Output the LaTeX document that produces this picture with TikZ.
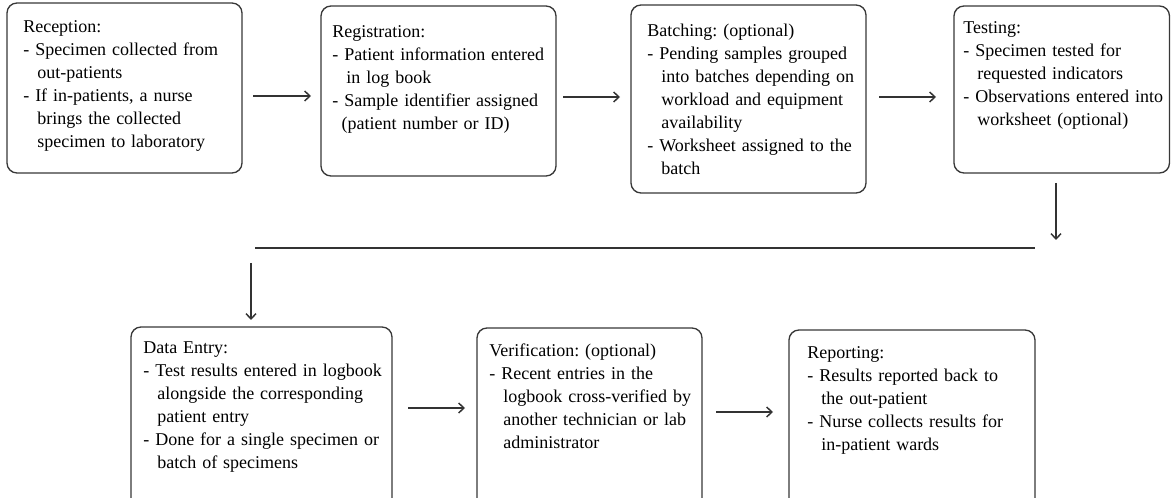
\documentclass[tikz,border=0pt]{standalone}
\usepackage{fontspec}
\setmainfont{Liberation Serif}
\usetikzlibrary{arrows.meta,fit}
\frenchspacing

% one titled step: first line carries a fixed-height strut so that
% the text node's top edge sits a known distance above the first baseline
\newcommand\steptitle[1]{\noindent\rule{0pt}{10pt}#1\par}
% a dash item whose wrapped lines hang under the first word
\newcommand\stepitem[2][10.5pt]{\hangindent=#1\hangafter=1\noindent - #2\par}

\begin{document}
\begin{tikzpicture}[x=0.75pt,y=-0.75pt,
  stepbox/.style={draw=black!78, line width=1pt, rounded corners=7.5pt, inner sep=0pt},
  steptext/.style={anchor=north west, inner sep=0pt, text width=185pt, align=left,
                   font=\fontsize{13.5pt}{17.25pt}\selectfont},
  flow/.style={draw=black!80, line width=1.1pt,
               -{Straight Barb[length=4pt,width=7.5pt,line width=1.1pt]}},
  rail/.style={draw=black!80, line width=1.1pt}]
\useasboundingbox (0,0) rectangle (1171,498);
\clip (0,0) rectangle (1171,498);

% ---- top row of steps
\node[stepbox, fit={(7,3) (242,173)}] (reception) {};
\node[stepbox, fit={(321,6) (556,176)}] (registration) {};
\node[stepbox, fit={(631,5) (866,193)}] (batching) {};
\node[stepbox, fit={(954,6) (1169.5,173)}] (testing) {};

% ---- bottom row of steps (running on below the page edge)
\node[stepbox, fit={(131,327) (392,530)}] (dataentry) {};
\node[stepbox, fit={(477,328) (702,530)}] (verification) {};
\node[stepbox, fit={(789,330) (1035,530)}] (reporting) {};

% ---- step descriptions
\node[steptext] (reception-t) at (23,18.7) {\steptitle{Reception:}
  \stepitem{Specimen collected from\newline out-patients}
  \stepitem{If in-patients, a nurse\newline brings the collected\newline specimen to laboratory}};
\node[steptext] (registration-t) at (332,23.7) {\steptitle{Registration:}
  \stepitem{Patient information entered\newline in log book}
  \stepitem[7pt]{Sample identifier assigned\newline (patient number or ID)}};
\node[steptext] (batching-t) at (647,22.7) {\steptitle{Batching: (optional)}
  \stepitem{Pending samples grouped\newline into batches depending on\newline workload and equipment\newline availability}
  \stepitem{Worksheet assigned to the\newline batch}};
\node[steptext] (testing-t) at (963,19.7) {\steptitle{Testing:}
  \stepitem{Specimen tested for\newline requested indicators}
  \stepitem{Observations entered into\newline worksheet (optional)}};
\node[steptext] (dataentry-t) at (143,339.7) {\steptitle{Data Entry:}
  \stepitem{Test results entered in logbook\newline alongside the corresponding\newline patient entry}
  \stepitem{Done for a single specimen or\newline batch of specimens}};
\node[steptext] (verification-t) at (489,342.7) {\steptitle{Verification: (optional)}
  \stepitem{Recent entries in the\newline logbook cross-verified by\newline another technician or lab\newline administrator}};
\node[steptext] (reporting-t) at (807,344.7) {\steptitle{Reporting:}
  \stepitem{Results reported back to\newline the out-patient}
  \stepitem{Nurse collects results for\newline in-patient wards}};

% ---- free-standing arrow ends between the steps
\coordinate (a1s) at (253,96);   \coordinate (a1e) at (311,96);
\coordinate (a2s) at (563,97);   \coordinate (a2e) at (620,97);
\coordinate (a3s) at (879,97);   \coordinate (a3e) at (936,97);
\coordinate (d1s) at (1056,183); \coordinate (d1e) at (1056,240);
\coordinate (rs)  at (255,248);  \coordinate (re)  at (1035,248);
\coordinate (d2s) at (251,263);  \coordinate (d2e) at (251,320);
\coordinate (b1s) at (408,408);  \coordinate (b1e) at (465,408);
\coordinate (b2s) at (716,412);  \coordinate (b2e) at (773,412);

\draw[flow] (a1s) -- (a1e);
\draw[flow] (a2s) -- (a2e);
\draw[flow] (a3s) -- (a3e);
\draw[flow] (d1s) -- (d1e);
\draw[rail] (rs) -- (re);
\draw[flow] (d2s) -- (d2e);
\draw[flow] (b1s) -- (b1e);
\draw[flow] (b2s) -- (b2e);
\end{tikzpicture}
\end{document}
